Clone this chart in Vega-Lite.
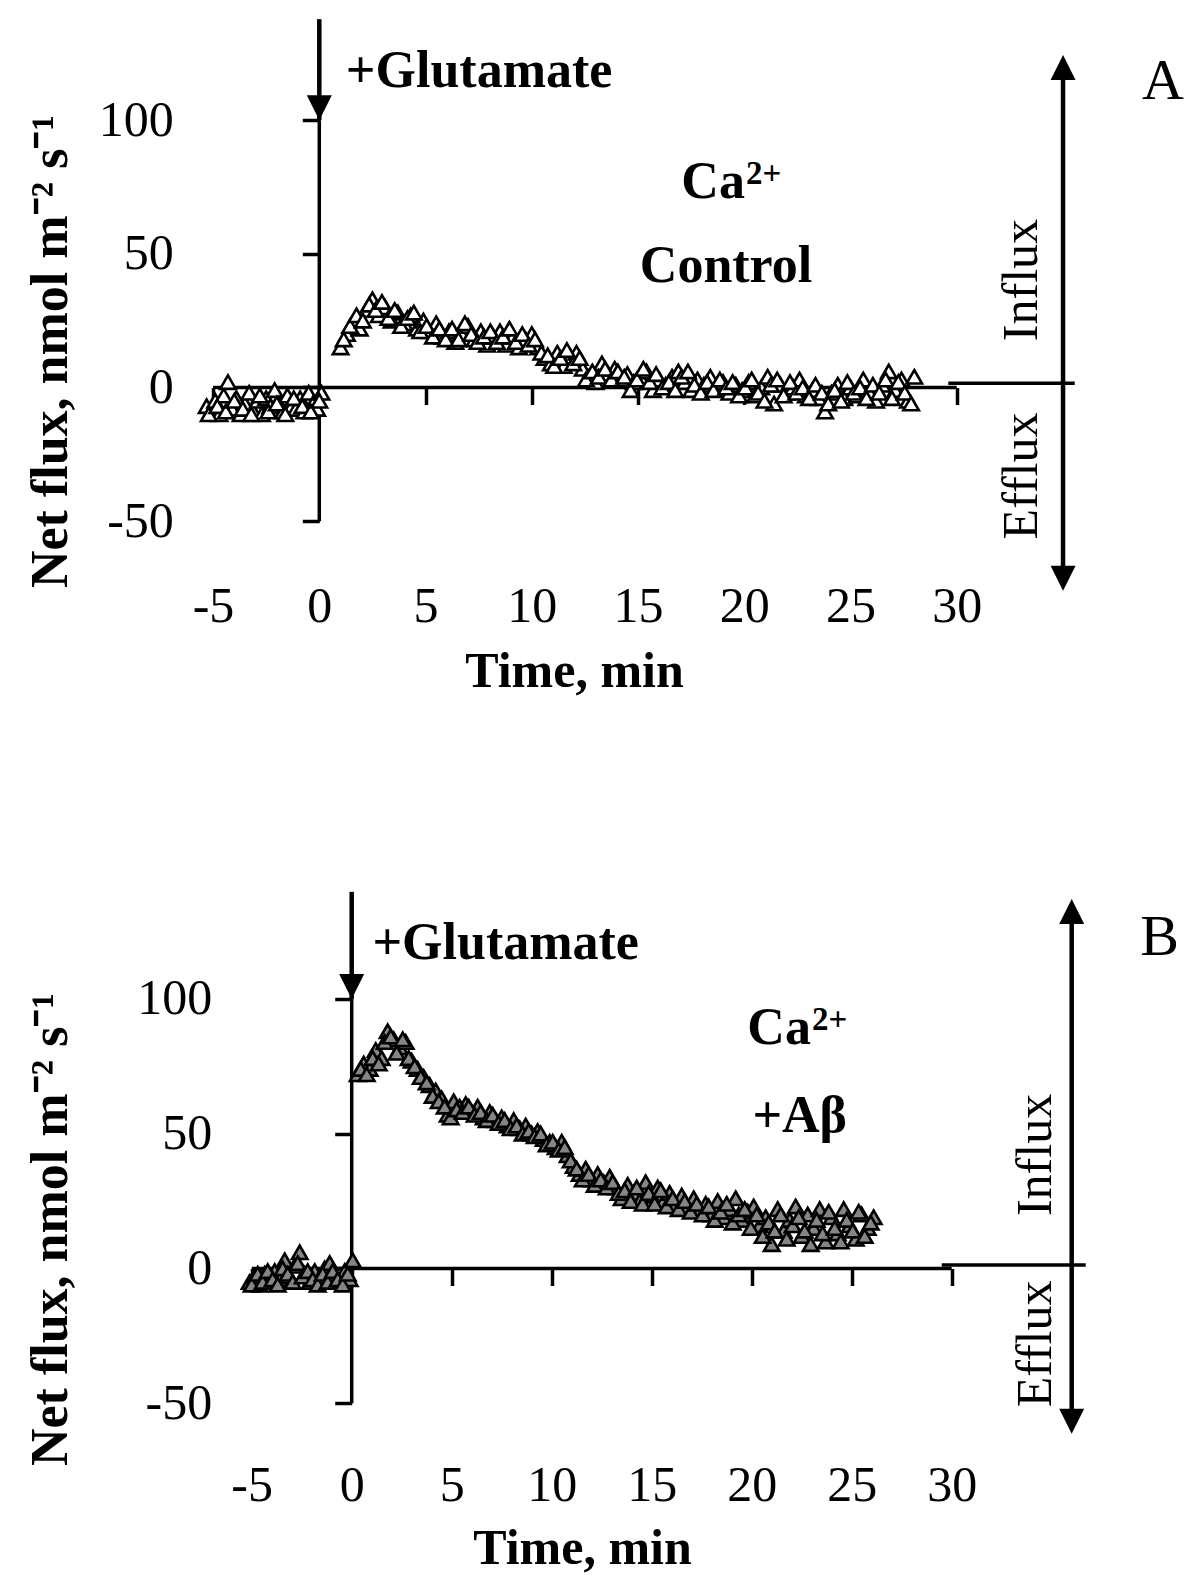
{
  "$schema": "https://vega.github.io/schema/vega-lite/v6.json",
  "padding": 0,
  "autosize": {"type": "pad"},
  "spacing": 0,
  "background": "white",
  "config": {"view": {"stroke": null}, "font": "Liberation Serif"},
  "vconcat": [
    {
      "width": 1200,
      "height": 760,
      "encoding": {
        "x": {"field": "x", "type": "quantitative",
          "scale": {"domain": [-15.026, 41.445], "nice": false, "zero": false},
          "axis": {"values": [-5, 0, 5, 10, 15, 20, 25, 30], "offset": -372.5, "domain": false, "grid": false,
            "ticks": true, "tickSize": 17, "tickWidth": 3.5, "tickColor": "black",
            "labelFont": "Liberation Serif", "labelFontSize": 50, "labelColor": "black", "labelPadding": 201.5,
            "labelBaseline": "middle", "labelFlush": false, "labelOverlap": false, "labelExpr": "'' + datum.value",
            "title": "Time, min", "titleFont": "Liberation Serif", "titleFontSize": 50, "titleFontWeight": "bold", "titleColor": "black",
            "titleX": 574, "titleY": 283.5, "titleAlign": "center", "titleBaseline": "middle"}},
        "y": {"field": "y", "type": "quantitative",
          "scale": {"domain": [-139.36, 144.97], "nice": false, "zero": false},
          "axis": {"values": [-50, 0, 50, 100], "offset": -319.3, "domain": false, "grid": false,
            "ticks": true, "tickSize": 17, "tickWidth": 3.5, "tickColor": "black",
            "labelFont": "Liberation Serif", "labelFontSize": 50, "labelColor": "black", "labelPadding": 129,
            "labelAlign": "right", "labelBaseline": "middle", "labelFlush": false, "labelOverlap": false, "labelExpr": "'' + datum.value",
            "title": "Net flux, nmol m⁻² s⁻¹", "titleFont": "Liberation Serif", "titleFontSize": 52, "titleFontWeight": "bold", "titleColor": "black",
            "titleAngle": 270, "titleX": -252.6, "titleY": 351, "titleAlign": "center", "titleBaseline": "alphabetic"}}
      },
      "layer": [
        {
          "data": {"values": [
            {"x": 0, "y": -50, "x2": 0, "y2": 100},
            {"x": -5, "y": 0, "x2": 30, "y2": 0},
            {"x": 29.6, "y": 1.6, "x2": 35.55, "y2": 1.6}
          ]},
          "mark": {"type": "rule", "color": "black", "strokeWidth": 3.5},
          "encoding": {"x2": {"field": "x2"}, "y2": {"field": "y2"}}
        },
        {
          "data": {"values": [
            {"x": 0, "y": 100, "x2": 0, "y2": 137.8},
            {"x": 35, "y": -71.4, "x2": 35, "y2": 119.7}
          ]},
          "mark": {"type": "rule", "color": "black", "strokeWidth": 4.5},
          "encoding": {"x2": {"field": "x2"}, "y2": {"field": "y2"}}
        },
        {
          "data": {"values": [
            {"x": 0, "y": 104.7, "dir": "down"},
            {"x": 35, "y": 119.7, "dir": "up"},
            {"x": 35, "y": -71.4, "dir": "down"}
          ]},
          "mark": {"type": "point", "filled": true, "color": "black", "opacity": 1, "size": 625},
          "encoding": {"shape": {"field": "dir", "type": "nominal", "legend": null,
            "scale": {"domain": ["up", "down"], "range": ["M0,-1L1,1L-1,1Z", "M-1,-1L1,-1L0,1Z"]}}}
        },
        {
          "data": {"values": [
            {"x": -5.3, "y": -7}, {"x": -5.1, "y": -9}, {"x": -4.9, "y": -5}, {"x": -4.7, "y": -10},
            {"x": -4.5, "y": -3}, {"x": -4.3, "y": 2}, {"x": -4.1, "y": -8}, {"x": -3.9, "y": -4},
            {"x": -3.7, "y": -10}, {"x": -3.5, "y": -6}, {"x": -3.3, "y": -2}, {"x": -3.1, "y": -9},
            {"x": -2.9, "y": -5}, {"x": -2.7, "y": -10}, {"x": -2.5, "y": -4}, {"x": -2.3, "y": -7},
            {"x": -2.1, "y": -1}, {"x": -1.9, "y": -6}, {"x": -1.7, "y": -9}, {"x": -1.5, "y": -3},
            {"x": -1.3, "y": -7}, {"x": -1.1, "y": -8}, {"x": -0.9, "y": -4}, {"x": -0.7, "y": -9},
            {"x": -0.5, "y": -2}, {"x": -0.3, "y": -6}, {"x": -0.1, "y": -8}, {"x": 0.1, "y": -2},
            {"x": -5.2, "y": -10}, {"x": -4.8, "y": -7}, {"x": -4.4, "y": -9}, {"x": -4.0, "y": -5},
            {"x": -3.6, "y": -8}, {"x": -3.2, "y": -10}, {"x": -2.8, "y": -3}, {"x": -2.4, "y": -9},
            {"x": -2.0, "y": -6}, {"x": -1.6, "y": -10}, {"x": -1.2, "y": -4}, {"x": -0.8, "y": -7},
            {"x": -0.4, "y": -9}, {"x": 0.0, "y": -5},
            {"x": 1.0, "y": 15}, {"x": 1.3, "y": 20}, {"x": 1.6, "y": 24}, {"x": 1.9, "y": 22},
            {"x": 2.2, "y": 29}, {"x": 2.5, "y": 33}, {"x": 2.8, "y": 27}, {"x": 3.1, "y": 30},
            {"x": 3.4, "y": 25}, {"x": 3.7, "y": 28}, {"x": 4.0, "y": 24}, {"x": 4.3, "y": 27},
            {"x": 4.6, "y": 22}, {"x": 4.9, "y": 25}, {"x": 5.2, "y": 21}, {"x": 5.5, "y": 24},
            {"x": 5.8, "y": 19}, {"x": 6.1, "y": 21}, {"x": 6.4, "y": 17}, {"x": 6.7, "y": 20},
            {"x": 7.0, "y": 23}, {"x": 7.3, "y": 18}, {"x": 7.6, "y": 21}, {"x": 7.9, "y": 16},
            {"x": 8.2, "y": 19}, {"x": 8.5, "y": 21}, {"x": 8.8, "y": 16}, {"x": 9.1, "y": 19},
            {"x": 9.4, "y": 15}, {"x": 9.7, "y": 18}, {"x": 10.0, "y": 20}, {"x": 10.3, "y": 15},
            {"x": 10.6, "y": 11}, {"x": 10.9, "y": 9}, {"x": 11.2, "y": 13}, {"x": 11.5, "y": 8},
            {"x": 11.8, "y": 11}, {"x": 12.1, "y": 13}, {"x": 12.4, "y": 7}, {"x": 12.7, "y": 4},
            {"x": 13.0, "y": 2}, {"x": 13.3, "y": 9}, {"x": 13.6, "y": 5}, {"x": 13.9, "y": 7},
            {"x": 14.2, "y": 3}, {"x": 14.5, "y": 5}, {"x": 14.8, "y": 2}, {"x": 15.1, "y": 4},
            {"x": 15.4, "y": 6}, {"x": 15.7, "y": -1}, {"x": 16.0, "y": 3}, {"x": 16.3, "y": 1},
            {"x": 16.6, "y": 4}, {"x": 16.9, "y": 6}, {"x": 17.2, "y": 2}, {"x": 17.5, "y": -1},
            {"x": 17.8, "y": 3}, {"x": 18.1, "y": 1}, {"x": 18.4, "y": 4}, {"x": 18.7, "y": 0},
            {"x": 19.0, "y": 2}, {"x": 19.3, "y": -2}, {"x": 19.6, "y": 1}, {"x": 19.9, "y": -1},
            {"x": 20.2, "y": 2}, {"x": 20.5, "y": -3}, {"x": 20.8, "y": 0}, {"x": 21.1, "y": 4},
            {"x": 21.4, "y": -6}, {"x": 21.7, "y": 1}, {"x": 22.0, "y": -2}, {"x": 22.3, "y": 0},
            {"x": 22.6, "y": 3}, {"x": 22.9, "y": -3}, {"x": 23.2, "y": -1}, {"x": 23.5, "y": -4},
            {"x": 23.8, "y": -9}, {"x": 24.1, "y": -2}, {"x": 24.4, "y": 1}, {"x": 24.7, "y": -4},
            {"x": 25.0, "y": 0}, {"x": 25.3, "y": -3}, {"x": 25.6, "y": 3}, {"x": 25.9, "y": -2},
            {"x": 26.2, "y": -5}, {"x": 26.5, "y": 1}, {"x": 26.8, "y": 6}, {"x": 27.1, "y": -1},
            {"x": 27.4, "y": 3}, {"x": 27.7, "y": -5}, {"x": 28.0, "y": 4},
            {"x": 1.15, "y": 18}, {"x": 1.45, "y": 23}, {"x": 1.75, "y": 27}, {"x": 2.05, "y": 25},
            {"x": 2.35, "y": 31}, {"x": 2.65, "y": 29}, {"x": 2.95, "y": 32}, {"x": 3.25, "y": 26},
            {"x": 3.55, "y": 29}, {"x": 3.85, "y": 23}, {"x": 4.15, "y": 26}, {"x": 4.45, "y": 28},
            {"x": 4.75, "y": 21}, {"x": 5.05, "y": 23}, {"x": 5.35, "y": 19}, {"x": 5.65, "y": 22},
            {"x": 5.95, "y": 18}, {"x": 6.25, "y": 22}, {"x": 6.55, "y": 18}, {"x": 6.85, "y": 24},
            {"x": 7.15, "y": 20}, {"x": 7.45, "y": 17}, {"x": 7.75, "y": 19}, {"x": 8.05, "y": 21},
            {"x": 8.35, "y": 17}, {"x": 8.65, "y": 19}, {"x": 8.95, "y": 22}, {"x": 9.25, "y": 17},
            {"x": 9.55, "y": 20}, {"x": 9.85, "y": 16}, {"x": 10.15, "y": 18}, {"x": 10.45, "y": 13},
            {"x": 10.75, "y": 12}, {"x": 11.05, "y": 8}, {"x": 11.35, "y": 11}, {"x": 11.65, "y": 14},
            {"x": 11.95, "y": 9}, {"x": 12.25, "y": 11}, {"x": 12.55, "y": 3}, {"x": 12.85, "y": 6},
            {"x": 13.15, "y": 4}, {"x": 13.45, "y": 7}, {"x": 13.75, "y": 3}, {"x": 14.05, "y": 6},
            {"x": 14.35, "y": 4}, {"x": 14.65, "y": -1}, {"x": 14.95, "y": 3}, {"x": 15.25, "y": 7},
            {"x": 15.55, "y": 2}, {"x": 15.85, "y": 5}, {"x": 16.15, "y": 0}, {"x": 16.45, "y": 2},
            {"x": 16.75, "y": -1}, {"x": 17.05, "y": 4}, {"x": 17.35, "y": 6}, {"x": 17.65, "y": 1},
            {"x": 17.95, "y": -2}, {"x": 18.25, "y": 2}, {"x": 18.55, "y": -1}, {"x": 18.85, "y": 3},
            {"x": 19.15, "y": 0}, {"x": 19.45, "y": 2}, {"x": 19.75, "y": -3}, {"x": 20.05, "y": 0},
            {"x": 20.35, "y": 3}, {"x": 20.65, "y": -2}, {"x": 20.95, "y": -5}, {"x": 21.25, "y": 1},
            {"x": 21.55, "y": 3}, {"x": 21.85, "y": -3}, {"x": 22.15, "y": 2}, {"x": 22.45, "y": -2},
            {"x": 22.75, "y": 0}, {"x": 23.05, "y": -4}, {"x": 23.35, "y": 1}, {"x": 23.65, "y": -2},
            {"x": 23.95, "y": -6}, {"x": 24.25, "y": -1}, {"x": 24.55, "y": -5}, {"x": 24.85, "y": 2},
            {"x": 25.15, "y": -2}, {"x": 25.45, "y": 0}, {"x": 25.75, "y": -4}, {"x": 26.05, "y": 1},
            {"x": 26.35, "y": -2}, {"x": 26.65, "y": 3}, {"x": 26.95, "y": -4}, {"x": 27.25, "y": 2},
            {"x": 27.55, "y": -2}, {"x": 27.85, "y": -6}
          ]},
          "mark": {"type": "point", "shape": "triangle-up", "filled": true, "fill": "white", "stroke": "black",
            "strokeWidth": 2.6, "size": 240, "opacity": 1}
        },
        {
          "data": {"values": [
            {"x": 7.52, "y": 118.5, "label": "+Glutamate"},
            {"x": 19.14, "y": 45.6, "label": "Control"}
          ]},
          "mark": {"type": "text", "font": "Liberation Serif", "fontWeight": "bold", "fontSize": 52, "color": "black",
            "align": "center", "baseline": "middle"},
          "encoding": {"text": {"field": "label"}}
        },
        {
          "data": {"values": [{"x": 20.03, "y": 70.9, "label": "Ca"}]},
          "mark": {"type": "text", "font": "Liberation Serif", "fontWeight": "bold", "fontSize": 52, "color": "black",
            "align": "right", "baseline": "alphabetic"},
          "encoding": {"text": {"field": "label"}}
        },
        {
          "data": {"values": [{"x": 20.03, "y": 70.9, "label": "2+"}]},
          "mark": {"type": "text", "font": "Liberation Serif", "fontWeight": "bold", "fontSize": 33, "color": "black",
            "align": "left", "baseline": "alphabetic", "dx": 1, "dy": -14},
          "encoding": {"text": {"field": "label"}}
        },
        {
          "data": {"values": [{"x": 39.7, "y": 114.3, "label": "A"}]},
          "mark": {"type": "text", "font": "Liberation Serif", "fontSize": 58, "color": "black",
            "align": "center", "baseline": "middle"},
          "encoding": {"text": {"field": "label"}}
        },
        {
          "data": {"values": [
            {"x": 33.07, "y": 40.2, "label": "Influx"},
            {"x": 33.07, "y": -33.1, "label": "Efflux"}
          ]},
          "mark": {"type": "text", "font": "Liberation Serif", "fontSize": 50, "color": "black",
            "align": "center", "baseline": "middle", "angle": 270},
          "encoding": {"text": {"field": "label"}}
        }
      ]
    },
    {
      "width": 1200,
      "height": 829,
      "encoding": {
        "x": {"field": "x", "type": "quantitative",
          "scale": {"domain": [-17.585, 42.415], "nice": false, "zero": false},
          "axis": {"values": [-5, 0, 5, 10, 15, 20, 25, 30], "offset": -320.5, "domain": false, "grid": false,
            "ticks": true, "tickSize": 17, "tickWidth": 3.5, "tickColor": "black",
            "labelFont": "Liberation Serif", "labelFontSize": 50, "labelColor": "black", "labelPadding": 199.5,
            "labelBaseline": "middle", "labelFlush": false, "labelOverlap": false, "labelExpr": "'' + datum.value",
            "title": "Time, min", "titleFont": "Liberation Serif", "titleFontSize": 50, "titleFontWeight": "bold", "titleColor": "black",
            "titleX": 582, "titleY": 279.5, "titleAlign": "center", "titleBaseline": "middle"}},
        "y": {"field": "y", "type": "quantitative",
          "scale": {"domain": [-118.9, 188.6], "nice": false, "zero": false},
          "axis": {"values": [-50, 0, 50, 100], "offset": -351.7, "domain": false, "grid": false,
            "ticks": true, "tickSize": 17, "tickWidth": 3.5, "tickColor": "black",
            "labelFont": "Liberation Serif", "labelFontSize": 50, "labelColor": "black", "labelPadding": 123,
            "labelAlign": "right", "labelBaseline": "middle", "labelFlush": false, "labelOverlap": false, "labelExpr": "'' + datum.value",
            "title": "Net flux, nmol m⁻² s⁻¹", "titleFont": "Liberation Serif", "titleFontSize": 52, "titleFontWeight": "bold", "titleColor": "black",
            "titleAngle": 270, "titleX": -285, "titleY": 469, "titleAlign": "center", "titleBaseline": "alphabetic"}}
      },
      "layer": [
        {
          "data": {"values": [
            {"x": 0, "y": -50, "x2": 0, "y2": 100},
            {"x": -5, "y": 0, "x2": 30, "y2": 0},
            {"x": 29.5, "y": 1.3, "x2": 36.7, "y2": 1.3}
          ]},
          "mark": {"type": "rule", "color": "black", "strokeWidth": 3.5},
          "encoding": {"x2": {"field": "x2"}, "y2": {"field": "y2"}}
        },
        {
          "data": {"values": [
            {"x": 0, "y": 100, "x2": 0, "y2": 139.7},
            {"x": 36, "y": -56.7, "x2": 36, "y2": 132.4}
          ]},
          "mark": {"type": "rule", "color": "black", "strokeWidth": 4.5},
          "encoding": {"x2": {"field": "x2"}, "y2": {"field": "y2"}}
        },
        {
          "data": {"values": [
            {"x": 0, "y": 104.6, "dir": "down"},
            {"x": 36, "y": 132.4, "dir": "up"},
            {"x": 36, "y": -56.7, "dir": "down"}
          ]},
          "mark": {"type": "point", "filled": true, "color": "black", "opacity": 1, "size": 625},
          "encoding": {"shape": {"field": "dir", "type": "nominal", "legend": null,
            "scale": {"domain": ["up", "down"], "range": ["M0,-1L1,1L-1,1Z", "M-1,-1L1,-1L0,1Z"]}}}
        },
        {
          "data": {"values": [
            {"x": -5.1, "y": -5}, {"x": -4.85, "y": -3}, {"x": -4.6, "y": -6}, {"x": -4.35, "y": -2},
            {"x": -4.1, "y": -5}, {"x": -3.85, "y": -1}, {"x": -3.6, "y": -4}, {"x": -3.35, "y": 3},
            {"x": -3.1, "y": -3}, {"x": -2.85, "y": 1}, {"x": -2.6, "y": 6}, {"x": -2.35, "y": -2},
            {"x": -2.1, "y": -5}, {"x": -1.85, "y": -1}, {"x": -1.6, "y": -4}, {"x": -1.35, "y": 0},
            {"x": -1.1, "y": 2}, {"x": -0.85, "y": -3}, {"x": -0.6, "y": -5}, {"x": -0.35, "y": -1},
            {"x": -0.1, "y": -4}, {"x": 0.05, "y": 3},
            {"x": -5.0, "y": -6}, {"x": -4.7, "y": -2}, {"x": -4.45, "y": -5}, {"x": -4.2, "y": -1},
            {"x": -3.95, "y": -4}, {"x": -3.7, "y": -6}, {"x": -3.45, "y": 0}, {"x": -3.2, "y": -2},
            {"x": -2.95, "y": -5}, {"x": -2.7, "y": 2}, {"x": -2.45, "y": -3}, {"x": -2.2, "y": -1},
            {"x": -1.95, "y": -4}, {"x": -1.7, "y": -6}, {"x": -1.45, "y": -2}, {"x": -1.2, "y": -5},
            {"x": -0.95, "y": -1}, {"x": -0.7, "y": -4}, {"x": -0.45, "y": -6}, {"x": -0.2, "y": -2},
            {"x": 0.3, "y": 72}, {"x": 0.6, "y": 76}, {"x": 0.9, "y": 74}, {"x": 1.2, "y": 81},
            {"x": 1.5, "y": 78}, {"x": 1.8, "y": 88}, {"x": 2.1, "y": 85}, {"x": 2.4, "y": 82},
            {"x": 2.7, "y": 84}, {"x": 3.0, "y": 77}, {"x": 3.3, "y": 74}, {"x": 3.6, "y": 71},
            {"x": 3.9, "y": 68}, {"x": 4.2, "y": 66}, {"x": 4.5, "y": 63}, {"x": 4.8, "y": 57},
            {"x": 5.1, "y": 62}, {"x": 5.4, "y": 60}, {"x": 5.7, "y": 61}, {"x": 6.0, "y": 58},
            {"x": 6.3, "y": 60}, {"x": 6.6, "y": 56}, {"x": 6.9, "y": 58}, {"x": 7.2, "y": 55},
            {"x": 7.5, "y": 56}, {"x": 7.8, "y": 53}, {"x": 8.1, "y": 55}, {"x": 8.4, "y": 52},
            {"x": 8.7, "y": 53}, {"x": 9.0, "y": 50}, {"x": 9.3, "y": 51}, {"x": 9.6, "y": 48},
            {"x": 9.9, "y": 47}, {"x": 10.2, "y": 45}, {"x": 10.5, "y": 47}, {"x": 10.8, "y": 42},
            {"x": 11.1, "y": 38}, {"x": 11.4, "y": 35}, {"x": 11.7, "y": 37}, {"x": 12.0, "y": 33},
            {"x": 12.3, "y": 35}, {"x": 12.6, "y": 32}, {"x": 12.9, "y": 34}, {"x": 13.2, "y": 30},
            {"x": 13.5, "y": 26}, {"x": 13.8, "y": 31}, {"x": 14.1, "y": 28}, {"x": 14.4, "y": 25},
            {"x": 14.7, "y": 32}, {"x": 15.0, "y": 27}, {"x": 15.3, "y": 30}, {"x": 15.6, "y": 25},
            {"x": 15.9, "y": 28}, {"x": 16.2, "y": 24}, {"x": 16.5, "y": 27}, {"x": 16.8, "y": 23},
            {"x": 17.1, "y": 26}, {"x": 17.4, "y": 22}, {"x": 17.7, "y": 24}, {"x": 18.0, "y": 20},
            {"x": 18.3, "y": 25}, {"x": 18.6, "y": 19}, {"x": 18.9, "y": 22}, {"x": 19.2, "y": 26},
            {"x": 19.5, "y": 18}, {"x": 19.8, "y": 21}, {"x": 20.1, "y": 23}, {"x": 20.4, "y": 16},
            {"x": 20.7, "y": 19}, {"x": 21.0, "y": 9}, {"x": 21.3, "y": 22}, {"x": 21.6, "y": 14},
            {"x": 21.9, "y": 18}, {"x": 22.2, "y": 23}, {"x": 22.5, "y": 12}, {"x": 22.8, "y": 20},
            {"x": 23.1, "y": 15}, {"x": 23.4, "y": 22}, {"x": 23.7, "y": 10}, {"x": 24.0, "y": 19},
            {"x": 24.3, "y": 13}, {"x": 24.6, "y": 22}, {"x": 24.9, "y": 16}, {"x": 25.2, "y": 11},
            {"x": 25.5, "y": 20}, {"x": 25.8, "y": 15}, {"x": 26.1, "y": 19},
            {"x": 0.45, "y": 74}, {"x": 0.75, "y": 72}, {"x": 1.05, "y": 78}, {"x": 1.35, "y": 76},
            {"x": 1.65, "y": 84}, {"x": 1.95, "y": 86}, {"x": 2.25, "y": 80}, {"x": 2.55, "y": 85},
            {"x": 2.85, "y": 78}, {"x": 3.15, "y": 75}, {"x": 3.45, "y": 71}, {"x": 3.75, "y": 69},
            {"x": 4.05, "y": 64}, {"x": 4.35, "y": 62}, {"x": 4.65, "y": 60}, {"x": 4.95, "y": 56},
            {"x": 5.25, "y": 59}, {"x": 5.55, "y": 58}, {"x": 5.85, "y": 60}, {"x": 6.15, "y": 57},
            {"x": 6.45, "y": 58}, {"x": 6.75, "y": 55}, {"x": 7.05, "y": 57}, {"x": 7.35, "y": 54},
            {"x": 7.65, "y": 55}, {"x": 7.95, "y": 52}, {"x": 8.25, "y": 53}, {"x": 8.55, "y": 50},
            {"x": 8.85, "y": 51}, {"x": 9.15, "y": 49}, {"x": 9.45, "y": 50}, {"x": 9.75, "y": 46},
            {"x": 10.05, "y": 47}, {"x": 10.35, "y": 44}, {"x": 10.65, "y": 45}, {"x": 10.95, "y": 40},
            {"x": 11.25, "y": 37}, {"x": 11.55, "y": 33}, {"x": 11.85, "y": 35}, {"x": 12.15, "y": 31},
            {"x": 12.45, "y": 33}, {"x": 12.75, "y": 30}, {"x": 13.05, "y": 32}, {"x": 13.35, "y": 28},
            {"x": 13.65, "y": 29}, {"x": 13.95, "y": 25}, {"x": 14.25, "y": 30}, {"x": 14.55, "y": 24},
            {"x": 14.85, "y": 28}, {"x": 15.15, "y": 24}, {"x": 15.45, "y": 29}, {"x": 15.75, "y": 23},
            {"x": 16.05, "y": 26}, {"x": 16.35, "y": 22}, {"x": 16.65, "y": 25}, {"x": 16.95, "y": 21},
            {"x": 17.25, "y": 24}, {"x": 17.55, "y": 20}, {"x": 17.85, "y": 23}, {"x": 18.15, "y": 18},
            {"x": 18.45, "y": 21}, {"x": 18.75, "y": 24}, {"x": 19.05, "y": 17}, {"x": 19.35, "y": 20},
            {"x": 19.65, "y": 22}, {"x": 19.95, "y": 15}, {"x": 20.25, "y": 20}, {"x": 20.55, "y": 12},
            {"x": 20.85, "y": 17}, {"x": 21.15, "y": 14}, {"x": 21.45, "y": 20}, {"x": 21.75, "y": 11},
            {"x": 22.05, "y": 16}, {"x": 22.35, "y": 19}, {"x": 22.65, "y": 14}, {"x": 22.95, "y": 9},
            {"x": 23.25, "y": 18}, {"x": 23.55, "y": 13}, {"x": 23.85, "y": 21}, {"x": 24.15, "y": 15},
            {"x": 24.45, "y": 10}, {"x": 24.75, "y": 18}, {"x": 25.05, "y": 14}, {"x": 25.35, "y": 21},
            {"x": 25.65, "y": 12}, {"x": 25.95, "y": 17}
          ]},
          "mark": {"type": "point", "shape": "triangle-up", "filled": true, "fill": "#858585", "stroke": "black",
            "strokeWidth": 2.6, "size": 240, "opacity": 1}
        },
        {
          "data": {"values": [
            {"x": 7.7, "y": 120.9, "label": "+Glutamate"},
            {"x": 22.4, "y": 56.6, "label": "+Aβ"}
          ]},
          "mark": {"type": "text", "font": "Liberation Serif", "fontWeight": "bold", "fontSize": 52, "color": "black",
            "align": "center", "baseline": "middle"},
          "encoding": {"text": {"field": "label"}}
        },
        {
          "data": {"values": [{"x": 22.96, "y": 83.3, "label": "Ca"}]},
          "mark": {"type": "text", "font": "Liberation Serif", "fontWeight": "bold", "fontSize": 52, "color": "black",
            "align": "right", "baseline": "alphabetic"},
          "encoding": {"text": {"field": "label"}}
        },
        {
          "data": {"values": [{"x": 22.96, "y": 83.3, "label": "2+"}]},
          "mark": {"type": "text", "font": "Liberation Serif", "fontWeight": "bold", "fontSize": 33, "color": "black",
            "align": "left", "baseline": "alphabetic", "dx": 1, "dy": -14},
          "encoding": {"text": {"field": "label"}}
        },
        {
          "data": {"values": [{"x": 40.4, "y": 122.6, "label": "B"}]},
          "mark": {"type": "text", "font": "Liberation Serif", "fontSize": 58, "color": "black",
            "align": "center", "baseline": "middle"},
          "encoding": {"text": {"field": "label"}}
        },
        {
          "data": {"values": [
            {"x": 34.2, "y": 42.1, "label": "Influx"},
            {"x": 34.2, "y": -28.0, "label": "Efflux"}
          ]},
          "mark": {"type": "text", "font": "Liberation Serif", "fontSize": 50, "color": "black",
            "align": "center", "baseline": "middle", "angle": 270},
          "encoding": {"text": {"field": "label"}}
        }
      ]
    }
  ]
}
